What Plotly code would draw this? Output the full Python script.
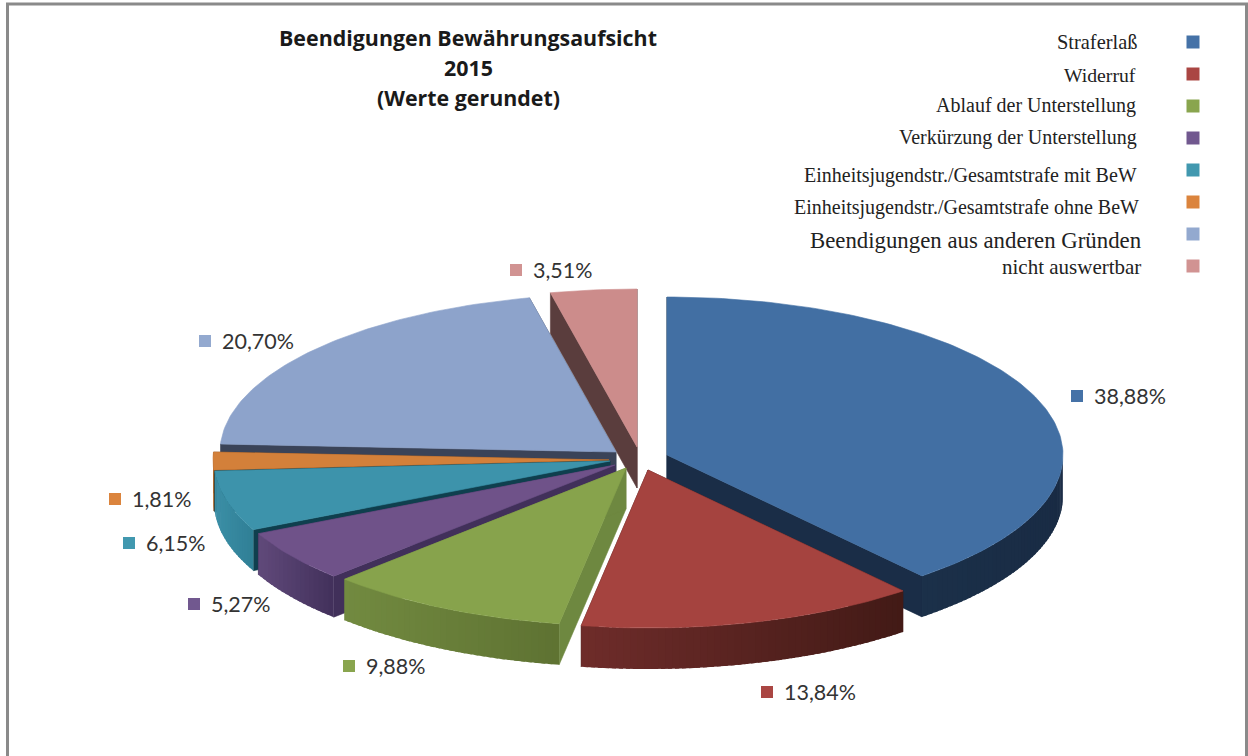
import math
import plotly.graph_objects as go

# ---- data ----
categories = ["Straferlaß", "Widerruf", "Ablauf der Unterstellung", "Verkürzung der Unterstellung",
              "Einheitsjugendstr./Gesamtstrafe mit BeW", "Einheitsjugendstr./Gesamtstrafe ohne BeW",
              "Beendigungen aus anderen Gründen", "nicht auswertbar"]
values = [38.88, 13.84, 9.88, 5.27, 6.15, 1.81, 20.70, 3.51]
value_labels = ["38,88%", "13,84%", "9,88%", "5,27%", "6,15%", "1,81%", "20,70%", "3,51%"]
title_lines = ["Beendigungen Bewährungsaufsicht", "2015", "(Werte gerundet)"]

# ---- styles and layout (pixel space of the chart) ----
top_colors = ["#426FA3", "#A5433F", "#87A34C", "#6F5289", "#3D93AB", "#D3803A", "#8DA3CB", "#CC8C8B"]
swatch_colors = ["#4572A7", "#AA4643", "#89A54E", "#71588F", "#4198AF", "#DB843D", "#93A9CF", "#D19392"]
wall_from = ["#1B3049", "#6E2C2A", "#728A40", "#60497A", "#3C8FA6", "#B86F30", "#3A4358", "#5A3D3D"]
wall_to = ["#192B44", "#421A16", "#5E7232", "#41305A", "#2F7F95", "#B86F30", "#3A4358", "#5A3D3D"]
radial = ["#1A2D47", "#421A16", "#6E8840", "#41305A", "#0F3F4E", "#6B3E17", "#3A4358", "#5A3D3D"]
apex = [(667, 455), (648, 470), (626, 468), (615, 465), (610, 461), (609, 460), (616, 452), (637, 447)]
RX, RY, DEPTH = 396, 158, 41
draw_order = [7, 6, 5, 4, 3, 2, 0, 1]

label_squares = [(1077, 396), (767, 692), (349, 666), (194, 604), (129, 543), (115, 499), (205, 341), (516, 270)]
label_font = 21.5
legend_right = [1139, 1138, 1138, 1139, 1139, 1141, 1144, 1143]
legend_y = [42, 75, 105, 137, 175, 207, 240, 267]
legend_size = [20.4, 19.7, 20, 20, 20, 20, 22.8, 21]
swatch_x = 1193
swatch_y = [42, 74, 106, 138, 170, 202, 234, 266]


def mix(c1, c2, t):
    a = [int(c1[i:i + 2], 16) for i in (1, 3, 5)]
    b = [int(c2[i:i + 2], 16) for i in (1, 3, 5)]
    return "#%02x%02x%02x" % tuple(round(p + (q - p) * t) for p, q in zip(a, b))


def pt(center, deg, depth=0):
    r = math.radians(deg)
    return center[0] + RX * math.sin(r), center[1] - RY * math.cos(r) + depth


def poly(fig, pts, color, width=0.6):
    xs = [p[0] for p in pts] + [pts[0][0]]
    ys = [p[1] for p in pts] + [pts[0][1]]
    fig.add_trace(go.Scatter(x=xs, y=ys, mode="lines", fill="toself", fillcolor=color,
                             line=dict(color=color, width=width), hoverinfo="skip", showlegend=False))


fig = go.Figure()

# angles from the values, clockwise from 12 o'clock
total = sum(values)
edges = [0.0]
for v in values:
    edges.append(edges[-1] + v / total * 360)

for i in draw_order:
    a0, a1 = edges[i], edges[i + 1]
    c = apex[i]
    # radial cut faces
    for edge in (a0, a1):
        p = pt(c, edge)
        poly(fig, [c, p, (p[0], p[1] + DEPTH), (c[0], c[1] + DEPTH)], radial[i])
    # outer wall, in overlapping shaded strips (front half only)
    lo, hi = max(a0, 90), min(a1, 270)
    if hi > lo:
        n = max(1, int(hi - lo))
        x_right, x_left = pt(c, lo)[0], pt(c, hi)[0]
        span = max(1.0, abs(x_right - x_left))
        for k in range(n):
            s0 = lo + (hi - lo) * k / n
            s1 = min(hi, lo + (hi - lo) * (k + 1.6) / n)
            t = abs(pt(c, (s0 + s1) / 2)[0] - x_left) / span
            arc = [pt(c, s0 + (s1 - s0) * j / 3) for j in range(4)]
            poly(fig, arc + [(x, y + DEPTH) for x, y in reversed(arc)], mix(wall_from[i], wall_to[i], t), 0)
    # top face
    steps = max(2, int(a1 - a0))
    poly(fig, [c] + [pt(c, a0 + (a1 - a0) * j / steps) for j in range(steps + 1)], top_colors[i])

# value label squares and legend swatches
fig.add_trace(go.Scatter(x=[p[0] for p in label_squares], y=[p[1] for p in label_squares], mode="markers",
                         marker=dict(symbol="square", size=12, color=swatch_colors), hoverinfo="skip",
                         showlegend=False))
fig.add_trace(go.Scatter(x=[swatch_x] * len(categories), y=swatch_y, mode="markers",
                         marker=dict(symbol="square", size=13, color=swatch_colors), hoverinfo="skip",
                         showlegend=False))

anns = []
for (x, y), txt in zip(label_squares, value_labels):
    anns.append(dict(x=x + 15, y=y, text=txt, showarrow=False, xanchor="left", yanchor="middle",
                     font=dict(family="Lato", size=label_font, color="#333333")))
for name, xr, y, sz in zip(categories, legend_right, legend_y, legend_size):
    anns.append(dict(x=xr, y=y, text=name, showarrow=False, xanchor="right", yanchor="middle",
                     font=dict(family="Liberation Serif", size=sz, color="#222222")))
for y, line in zip([37, 67, 97], title_lines):
    anns.append(dict(x=468, y=y, text="<b>%s</b>" % line, showarrow=False, xanchor="center", yanchor="middle",
                     font=dict(family="Open Sans", size=21.4, color="#1a1a1a")))

fig.update_layout(
    width=1248, height=756, margin=dict(l=0, r=0, t=0, b=0),
    paper_bgcolor="white", plot_bgcolor="white", showlegend=False,
    xaxis=dict(range=[0, 1248], visible=False, fixedrange=True),
    yaxis=dict(range=[756, 0], visible=False, fixedrange=True),
    annotations=anns,
    shapes=[dict(type="rect", xref="x", yref="y", x0=7.5, y0=4, x1=1246.5, y1=770,
                 line=dict(color="#8a8a8a", width=3), layer="below")],
)
fig.write_html("out.html", config=dict(displayModeBar=False),
               post_script="document.body.style.margin='0';document.body.style.overflow='hidden';")
